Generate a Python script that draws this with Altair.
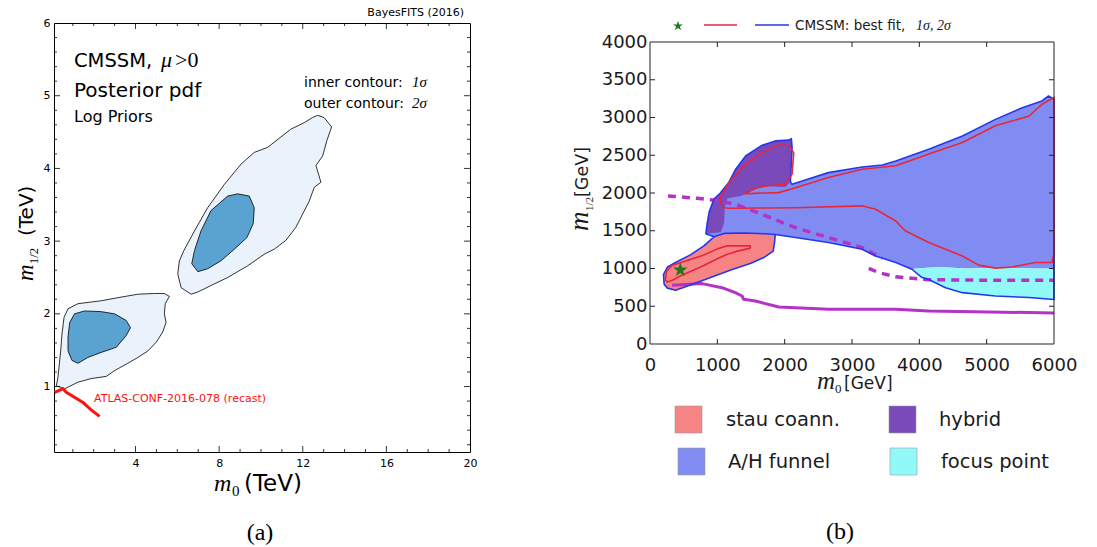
import altair as alt
import pandas as pd

# ---------------- panel (a): posterior pdf, m0 / m1/2 in TeV ----------------
a_low_outer_m0 = [0.21, 0.29, 0.42, 0.48, 0.58, 0.77, 1.25, 2.36, 3.31, 4.11, 4.90, 5.38, 5.62, 5.42,
                  5.38, 5.46, 5.30, 4.99, 4.59, 4.11, 3.63, 3.00, 2.60, 1.88, 1.25, 0.61]
a_low_outer_m12 = [1.01, 1.13, 1.49, 1.72, 1.95, 2.07, 2.14, 2.18, 2.23, 2.27, 2.28, 2.28, 2.24, 2.14,
                   2.00, 1.88, 1.75, 1.61, 1.49, 1.40, 1.32, 1.22, 1.14, 1.11, 1.06, 0.97]
a_low_inner_m0 = [0.77, 0.85, 1.08, 1.56, 2.36, 3.00, 3.55, 3.76, 3.55, 3.08, 2.36, 1.72, 1.25, 0.96, 0.77]
a_low_inner_m12 = [1.68, 1.88, 2.00, 2.04, 2.03, 2.00, 1.91, 1.81, 1.70, 1.54, 1.47, 1.40, 1.32, 1.36, 1.49]
a_up_outer_m0 = [6.66, 6.18, 6.02, 6.10, 6.31, 6.82, 7.45, 8.25, 9.05, 9.68, 10.32, 11.43, 12.07, 12.47,
                 12.71, 13.02, 13.38, 13.15, 12.95, 12.63, 12.87, 12.55, 12.31, 11.99, 11.67, 11.19,
                 10.64, 10.16, 9.36, 8.41, 7.61, 6.98]
a_up_outer_m12 = [2.27, 2.36, 2.55, 2.73, 2.87, 3.14, 3.46, 3.78, 4.06, 4.22, 4.29, 4.54, 4.63, 4.70,
                  4.73, 4.70, 4.57, 4.38, 4.17, 4.04, 3.81, 3.74, 3.55, 3.37, 3.19, 3.01,
                  2.89, 2.82, 2.66, 2.50, 2.39, 2.30]
a_up_inner_m0 = [6.82, 7.13, 7.61, 8.41, 8.89, 9.44, 9.68, 9.63, 9.33, 8.73, 8.09, 7.45, 6.98, 6.69]
a_up_inner_m12 = [2.87, 3.14, 3.42, 3.62, 3.65, 3.62, 3.46, 3.24, 3.05, 2.89, 2.73, 2.62, 2.58, 2.69]
atlas_m0 = [0.13, 0.53, 0.69, 1.49, 1.88, 2.28]
atlas_m12 = [0.92, 0.97, 0.92, 0.78, 0.68, 0.59]

a_x_labels = [4, 8, 12, 16, 20]
a_y_labels = [1, 2, 3, 4, 5, 6]
a_x_major = [4, 8, 12, 16]
a_x_minor = [1, 2, 3, 5, 6, 7, 9, 10, 11, 13, 14, 15, 17, 18, 19]
a_y_major = [1, 2, 3, 4, 5]
a_y_minor = [round(0.2 * k, 1) for k in range(1, 30) if k % 5 != 0]

# ---------------- panel (b): CMSSM regions, m0 / m1/2 in GeV ----------------
regions = ["stau coann.", "hybrid", "A/H funnel", "focus point"]
region_colors = ["#f78484", "#7a4abb", "#808cf2", "#92f9f9"]

stau_m0 = [210, 200, 260, 400, 600, 800, 950, 1100, 1400, 1700, 1860, 1850, 1830, 1700, 1500, 1200, 900, 600, 380, 260]
stau_m12 = [790, 920, 1020, 1090, 1180, 1300, 1420, 1465, 1470, 1460, 1450, 1350, 1230, 1150, 1070, 980, 880, 780, 712, 740]
hybrid_m0 = [830, 850, 880, 950, 1045, 1170, 1270, 1420, 1660, 1860, 2060, 2100, 2110, 2085, 2010, 1760,
             1610, 1470, 1350, 1150, 1110, 1100, 1050]
hybrid_m12 = [1460, 1600, 1750, 1920, 2000, 2140, 2310, 2490, 2630, 2690, 2700, 2720, 2600, 2150, 2080, 2090,
              2070, 2010, 1960, 1930, 1800, 1600, 1480]
funnel_m0 = [830, 850, 880, 950, 1045, 1170, 1270, 1420, 1660, 1860, 2060, 2100, 2110, 2085, 2110, 2260,
             2650, 3150, 3450, 3650, 4140, 4640, 5130, 5530, 5820, 5920, 6000, 6000, 5700, 5200, 4700,
             4300, 3950, 3890, 3650, 3350, 3150, 2650, 2160, 1860, 1700, 1400, 1100, 950]
funnel_m12 = [1460, 1600, 1750, 1920, 2000, 2140, 2310, 2490, 2630, 2690, 2700, 2720, 2600, 2150, 2115, 2160,
              2270, 2345, 2370, 2425, 2580, 2755, 2975, 3130, 3220, 3285, 3240, 1000, 1000, 1010, 1000,
              1020, 1000, 990, 1080, 1165, 1255, 1345, 1410, 1450, 1460, 1470, 1465, 1420]
focus_m0 = [3890, 3950, 4300, 4700, 5200, 5700, 6000, 6000, 5630, 5130, 4640, 4390, 4140, 4040]
focus_m12 = [990, 1000, 1020, 1000, 1010, 1000, 1000, 590, 615, 635, 680, 745, 855, 880]

sig2_m0 = [210, 200, 260, 400, 600, 800, 950, 830, 850, 880, 950, 1045, 1170, 1270, 1420, 1660, 1860, 2060,
           2100, 2110, 2085, 2110, 2260, 2650, 3150, 3450, 3650, 4140, 4640, 5130, 5530, 5820, 5920, 6000,
           6000, 5630, 5130, 4640, 4390, 4140, 4040, 3890, 3650, 3350, 3150, 2650, 2160, 1860, 1850, 1830,
           1700, 1500, 1200, 900, 600, 380, 260]
sig2_m12 = [790, 920, 1020, 1090, 1180, 1300, 1420, 1460, 1600, 1750, 1920, 2000, 2140, 2310, 2490, 2630, 2690,
            2700, 2720, 2600, 2150, 2115, 2160, 2270, 2345, 2370, 2425, 2580, 2755, 2975, 3130, 3220, 3285,
            3240, 590, 615, 635, 680, 745, 855, 880, 990, 1080, 1165, 1255, 1345, 1410, 1450, 1350, 1230,
            1150, 1070, 980, 880, 780, 712, 740]
seam_m0 = [950, 1100, 1400, 1700, 1860]
seam_m12 = [1420, 1465, 1470, 1460, 1450]
sig1_funnel_m0 = [1070, 1045, 1170, 1370, 1660, 1910, 2060, 2135, 2110, 2010, 1760, 1610, 1470, 1405, 1550,
                  1700, 1910, 2160, 2650, 3150, 3650, 4140, 4640, 5130, 5630, 5820, 6000, 6000, 5970, 5720,
                  5380, 5130, 4880, 4640, 4140, 3790, 3650, 3350, 3150, 2160, 1170]
sig1_funnel_m12 = [1807, 1940, 2140, 2340, 2535, 2635, 2630, 2535, 2250, 2120, 2095, 2075, 2020, 1990, 1995,
                   2000, 2005, 2070, 2205, 2315, 2360, 2515, 2670, 2890, 3020, 3175, 3265, 1190, 1080, 1080,
                   1020, 1005, 1045, 1165, 1345, 1500, 1630, 1785, 1830, 1805, 1798]
sig1_stau_m0 = [228, 245, 327, 450, 600, 800, 1000, 1150, 1300, 1490, 1490, 1300, 1150, 1000, 800, 600, 450, 330, 260]
sig1_stau_m12 = [850, 960, 1040, 1075, 1120, 1180, 1260, 1300, 1300, 1300, 1270, 1230, 1190, 1130, 1040, 960, 900, 845, 820]
dash_a_m0 = [267, 700, 971, 1268, 1664, 2160, 2655, 3150, 3447]
dash_a_m12 = [1961, 1930, 1904, 1851, 1718, 1541, 1409, 1277, 1135]
dash_b_m0 = [3249, 3397, 3645, 3893, 4141, 5131, 6000]
dash_b_m12 = [1003, 945, 892, 870, 852, 844, 844]
solid_m0 = [327, 773, 1070, 1268, 1367, 1391, 1565, 1912, 2655, 3150, 3645, 4141, 6000]
solid_m12 = [777, 800, 746, 680, 636, 592, 570, 490, 459, 459, 459, 437, 411]
best_m0 = [450]
best_m12 = [980]

b_x_labels = [0, 1000, 2000, 3000, 4000, 5000, 6000]
b_y_labels = [0, 500, 1000, 1500, 2000, 2500, 3000, 3500, 4000]
b_x_major = [1000, 2000, 3000, 4000, 5000]
b_y_major = [500, 1000, 1500, 2000, 2500, 3000, 3500]

WA, HA = 416, 429           # panel (a) plot area
WB, HB, KEY = 404, 302, 19  # panel (b) plot area and the key band above it
HT = HB + KEY
B_TOP = 4000 * HT / HB      # the key band sits above m1/2 = 4000
SANS = "DejaVu Sans"
SERIF = "Liberation Serif"
INK = "#1a1a1a"
# five-pointed star as a symbol path inside the [-1, 1] box
STAR = ("M0,-1L0.2245,-0.309L0.9511,-0.309L0.3633,0.118L0.5878,0.809L0,0.382"
        "L-0.5878,0.809L-0.3633,0.118L-0.9511,-0.309L-0.2245,-0.309Z")


def path(m0, m12, name, close=False):
    xs, ys = list(m0), list(m12)
    if close:
        xs, ys = xs + xs[:1], ys + ys[:1]
    return pd.DataFrame({"m0": xs, "m12": ys, "i": list(range(len(xs))), "part": name})


one = pd.DataFrame({"k": [0]})


def txt(s, x, y, size, font=SANS, style="normal", color="black", align="left", angle=0, baseline="alphabetic"):
    return alt.Chart(one).mark_text(
        text=s, font=font, fontSize=size, fontStyle=style, color=color,
        align=align, baseline=baseline, angle=angle
    ).encode(x=alt.value(x), y=alt.value(y))


def seg(x1, x2, y1, y2, color, width=1.0, opacity=1.0):
    return alt.Chart(one).mark_rule(color=color, strokeWidth=width, opacity=opacity).encode(
        x=alt.value(x1), x2=alt.value(x2), y=alt.value(y1), y2=alt.value(y2))


def swatch(x1, y1, color):
    return alt.Chart(one).mark_rect(color=color, stroke="#9a9a9a", strokeWidth=0.6).encode(
        x=alt.value(x1), x2=alt.value(x1 + 27), y=alt.value(y1), y2=alt.value(y1 + 27))


# ---- encodings for panel (a)
def xa():
    return alt.X("m0:Q", scale=alt.Scale(domain=[0.1, 20], nice=False, zero=False),
                 axis=alt.Axis(values=a_x_labels, ticks=False, domain=False, grid=False, title=None,
                               labelFontSize=11, labelFont=SANS, labelColor="black", labelPadding=5,
                               labelFlush=False, labelOverlap=False))


def ya():
    return alt.Y("m12:Q", scale=alt.Scale(domain=[0.1, 6], nice=False, zero=False),
                 axis=alt.Axis(values=a_y_labels, ticks=False, domain=False, grid=False, title=None,
                               labelFontSize=11, labelFont=SANS, labelColor="black", labelPadding=4,
                               labelFlush=False, labelOverlap=False))


def blob_fill(df, color):
    return alt.Chart(df).mark_line(filled=True, color=color).encode(
        x=xa(), y=ya(), order="i:Q", detail="part:N")


def blob_edge(df):
    return alt.Chart(df).mark_line(color="black", strokeWidth=0.8).encode(
        x=xa(), y=ya(), order="i:Q", detail="part:N")


outer_a = pd.concat([path(a_low_outer_m0, a_low_outer_m12, "low", True),
                     path(a_up_outer_m0, a_up_outer_m12, "up", True)])
inner_a = pd.concat([path(a_low_inner_m0, a_low_inner_m12, "low", True),
                     path(a_up_inner_m0, a_up_inner_m12, "up", True)])
atlas_df = path(atlas_m0, atlas_m12, "atlas")


def xticks_a(vals, size):
    d = pd.DataFrame({"m0": vals})
    bot = alt.Chart(d).mark_rule(color="black", strokeWidth=0.8).encode(
        x=xa(), y=alt.value(HA), y2=alt.value(HA - size))
    top = alt.Chart(d).mark_rule(color="black", strokeWidth=0.8).encode(
        x=xa(), y=alt.value(0), y2=alt.value(size))
    return [bot, top]


def yticks_a(vals, size):
    d = pd.DataFrame({"m12": vals})
    left = alt.Chart(d).mark_rule(color="black", strokeWidth=0.8).encode(
        y=ya(), x=alt.value(0), x2=alt.value(size))
    right = alt.Chart(d).mark_rule(color="black", strokeWidth=0.8).encode(
        y=ya(), x=alt.value(WA), x2=alt.value(WA - size))
    return [left, right]


layers_a = [
    blob_fill(outer_a, "#eaf2fb"), blob_edge(outer_a),
    blob_fill(inner_a, "#5aa3d0"), blob_edge(inner_a),
    alt.Chart(atlas_df).mark_line(color="#ff1010", strokeWidth=3).encode(
        x=xa(), y=ya(), order="i:Q"),
    *xticks_a(a_x_major, 6), *xticks_a(a_x_minor, 3),
    *yticks_a(a_y_major, 6), *yticks_a(a_y_minor, 3),
    txt("BayesFITS (2016)", 410, -7, 11, align="right"),
    txt("CMSSM,", 20, 44, 19.5),
    txt("μ", 107, 44, 22, font=SERIF, style="italic"),
    txt(">0", 121, 44, 22, font=SERIF),
    txt("Posterior pdf", 20, 74, 20),
    txt("Log Priors", 20, 99, 16),
    txt("inner contour:", 250, 64, 14),
    txt("1σ", 358, 64, 15, font=SERIF, style="italic"),
    txt("outer contour:", 250, 85, 14),
    txt("2σ", 358, 85, 15, font=SERIF, style="italic"),
    txt("ATLAS-CONF-2016-078 (recast)", 40, 379, 11, color="#ff1010"),
    # axis titles
    txt("m", 160, 468, 24, font=SERIF, style="italic"),
    txt("0", 178, 473, 15, font=SERIF),
    txt("(TeV)", 190, 468, 23),
    txt("m", -21, 258, 23, font=SERIF, style="italic", angle=270),
    txt("1/2", -16, 241, 12.5, font=SERIF, angle=270),
    txt("(TeV)", -21, 213, 20, angle=270),
    txt("(a)", 206, 517, 24, font=SERIF, align="center"),
    # invisible corner markers that fix the panel's outer extent
    alt.Chart(one).mark_rule(opacity=0, strokeWidth=0.01).encode(
        x=alt.value(-53), x2=alt.value(-52), y=alt.value(-22)),
    alt.Chart(one).mark_rule(opacity=0, strokeWidth=0.01).encode(
        x=alt.value(439), x2=alt.value(440), y=alt.value(-22)),
]
panel_a = alt.layer(*layers_a).properties(
    width=WA, height=HA, view=alt.ViewBackground(stroke="black", strokeWidth=1))


# ---- encodings for panel (b)
def xb():
    return alt.X("m0:Q", scale=alt.Scale(domain=[0, 6000], nice=False, zero=False),
                 axis=alt.Axis(values=b_x_labels, ticks=False, domain=False, grid=False, title=None,
                               labelFontSize=18, labelFont=SANS, labelColor=INK, labelPadding=12,
                               format="d", labelFlush=False, labelOverlap=False))


def yb():
    return alt.Y("m12:Q", scale=alt.Scale(domain=[0, B_TOP], nice=False, zero=False),
                 axis=alt.Axis(values=b_y_labels, ticks=False, domain=False, grid=False, title=None,
                               labelFontSize=18, labelFont=SANS, labelColor=INK, labelPadding=3,
                               format="d", labelFlush=False, labelOverlap=False))


def region_fill(m0, m12, name):
    df = path(m0, m12, name, True)
    return alt.Chart(df).mark_line(filled=True, color=region_colors[regions.index(name)]).encode(
        x=xb(), y=yb(), order="i:Q", detail="part:N")


def curve(df, color, width, dash=None):
    kw = dict(color=color, strokeWidth=width, strokeJoin="round")
    if dash is not None:
        kw["strokeDash"] = dash
    return alt.Chart(df).mark_line(**kw).encode(x=xb(), y=yb(), order="i:Q", detail="part:N")


def xticks_b(vals, size):
    d = pd.DataFrame({"m0": vals})
    return [alt.Chart(d).mark_rule(color="#222", strokeWidth=1).encode(
                x=xb(), y=alt.value(HT), y2=alt.value(HT - size)),
            alt.Chart(d).mark_rule(color="#222", strokeWidth=1).encode(
                x=xb(), y=alt.value(KEY), y2=alt.value(KEY + size))]


def yticks_b(vals, size):
    d = pd.DataFrame({"m12": vals})
    return [alt.Chart(d).mark_rule(color="#222", strokeWidth=1).encode(
                y=yb(), x=alt.value(0), x2=alt.value(size)),
            alt.Chart(d).mark_rule(color="#222", strokeWidth=1).encode(
                y=yb(), x=alt.value(WB), x2=alt.value(WB - size))]


BLUE, RED, MAGENTA = "#2338ee", "#e8263a", "#b532c6"
sig2_df = pd.concat([path(sig2_m0, sig2_m12, "outer", True), path(seam_m0, seam_m12, "seam")])
sig1_df = pd.concat([path(sig1_funnel_m0, sig1_funnel_m12, "funnel", True),
                     path(sig1_stau_m0, sig1_stau_m12, "stau", True)])
dash_df = pd.concat([path(dash_a_m0, dash_a_m12, "a"), path(dash_b_m0, dash_b_m12, "b")])
solid_df = path(solid_m0, solid_m12, "solid")
best_df = pd.DataFrame({"m0": best_m0, "m12": best_m12})

LEG = KEY + 364
layers_b = [
    region_fill(funnel_m0, funnel_m12, "A/H funnel"),
    region_fill(focus_m0, focus_m12, "focus point"),
    region_fill(stau_m0, stau_m12, "stau coann."),
    region_fill(hybrid_m0, hybrid_m12, "hybrid"),
    curve(dash_df, MAGENTA, 3.5, [8, 6]),
    curve(solid_df, MAGENTA, 3),
    curve(sig2_df, BLUE, 1.6),
    curve(sig1_df, RED, 1.6),
    alt.Chart(best_df).mark_point(shape=STAR, filled=True, color="#1c7a1c", size=240, opacity=1).encode(
        x=xb(), y=yb()),
    # frame
    seg(0, WB, KEY, KEY, "#222"), seg(0, WB, HT, HT, "#222"),
    seg(0, 0, KEY, HT, "#222"), seg(WB, WB, KEY, HT, "#222"),
    *xticks_b(b_x_major, 5), *yticks_b(b_y_major, 5),
    # key above the frame
    alt.Chart(one).mark_point(shape=STAR, filled=True, color="#1c7a1c", size=110, opacity=1).encode(
        x=alt.value(28), y=alt.value(3)),
    seg(54, 87, 2, 2, RED, 1.6),
    seg(105, 139, 2, 2, BLUE, 1.6),
    txt("CMSSM: best fit,", 145, 7, 13.5, color=INK),
    txt("1σ, 2σ", 266, 7, 14, font=SERIF, style="italic", color=INK),
    # region key below the axis
    swatch(25, LEG, region_colors[0]), txt(regions[0], 76, LEG + 14, 19.5, color=INK, baseline="middle"),
    swatch(239, LEG, region_colors[1]), txt(regions[1], 289, LEG + 14, 19.5, color=INK, baseline="middle"),
    swatch(28, LEG + 42, region_colors[2]), txt(regions[2], 78, LEG + 56, 19.5, color=INK, baseline="middle"),
    swatch(240, LEG + 42, region_colors[3]), txt(regions[3], 291, LEG + 56, 19.5, color=INK, baseline="middle"),
    # axis titles
    txt("m", 167, KEY + 347, 25, font=SERIF, style="italic", color=INK),
    txt("0", 185, KEY + 351, 13, font=SERIF, color=INK),
    txt("[GeV]", 194, KEY + 347, 17, color=INK),
    txt("m", -62, KEY + 189, 27, font=SERIF, style="italic", angle=270, color=INK),
    txt("1/2", -57, KEY + 169, 11, font=SERIF, angle=270, color=INK),
    txt("[GeV]", -62, KEY + 155, 17.5, angle=270, color=INK),
    txt("(b)", 190, KEY + 497, 24, font=SERIF, align="center"),
    alt.Chart(one).mark_rule(opacity=0, strokeWidth=0.01).encode(
        x=alt.value(-100), x2=alt.value(-99), y=alt.value(-22)),
]
panel_b = alt.layer(*layers_b).properties(
    width=WB, height=HT, view=alt.ViewBackground(strokeOpacity=0))

chart = alt.hconcat(panel_a, panel_b, spacing=55).properties(padding=0)

chart.save("out.html", embed_options={"renderer": "svg", "actions": False})
